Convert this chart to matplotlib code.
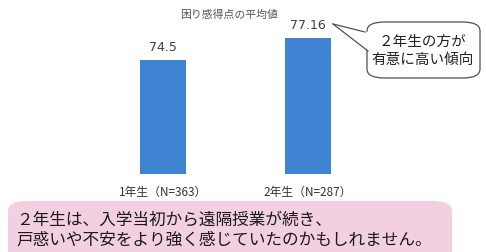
import matplotlib
matplotlib.use("Agg")
import matplotlib.pyplot as plt
from matplotlib.patches import FancyBboxPatch, Polygon
from matplotlib.lines import Line2D

plt.rcParams['font.family'] = ['Noto Sans CJK JP', 'DejaVu Sans']

categories = ["1年生（N=363）", "2年生（N=287）"]
values = [74.5, 77.16]
value_labels = ["74.5", "77.16"]
title = "困り感得点の平均値"
callout_text = "２年生の方が\n有意に高い傾向"
note_text = "２年生は、入学当初から遠隔授業が続き、\n戸惑いや不安をより強く感じていたのかもしれません。"

W, H = 486, 253
fig = plt.figure(figsize=(W / 100, H / 100), dpi=100)
fig.patch.set_facecolor("white")

def fx(x):
    return x / W

def fy(y):
    return 1 - y / H

# axes placement (pixels)
ax_left, ax_right = 47, 424
ax_top, ax_bottom = 25, 175
ax = fig.add_axes([fx(ax_left), fy(ax_bottom), (ax_right - ax_left) / W, (ax_bottom - ax_top) / H])
ax.set_xlim(-0.8, 1.8)
ymin = 60.72
ax.set_ylim(ymin, ymin + (ax_bottom - ax_top) / 8.27)

x = list(range(len(categories)))
bars = ax.bar(x, values, width=0.317, color="#3F84D2", zorder=2)
for xi, v, lab in zip(x, values, value_labels):
    ax.annotate(lab, (xi, v), xytext=(0, 5), textcoords="offset points",
                ha="center", va="bottom", fontsize=9, color="#404040",
                family=["DejaVu Sans"])

ax.set_xticks(x)
ax.set_xticklabels(categories, fontsize=8.5, color="#333333")
ax.tick_params(axis="x", length=0, pad=8)
ax.set_yticks([])
for s in ax.spines.values():
    s.set_visible(False)
ax.patch.set_alpha(0)

# title
fig.text(fx(229), fy(15), title, ha="center", va="center", fontsize=7.8, color="#555555")

# callout box
bx0, by0, bx1, by1 = 367, 23, 480, 79
r = 9
box = FancyBboxPatch((fx(bx0), fy(by1)), fx(bx1 - bx0), (by1 - by0) / H,
                     boxstyle=f"round,pad=0,rounding_size={r / H}",
                     transform=fig.transFigure, facecolor="white",
                     edgecolor="#505050", linewidth=0.9, mutation_aspect=1)
fig.add_artist(box)
tip = (333, 25)
b1 = (365, 33)
b2 = (368, 52)
tail = Polygon([(fx(tip[0]), fy(tip[1])), (fx(b1[0] + 3), fy(b1[1])), (fx(b2[0] + 1), fy(b2[1]))],
               closed=True, transform=fig.transFigure, facecolor="white", edgecolor="none", zorder=5)
fig.add_artist(tail)
for b in (b1, b2):
    fig.add_artist(Line2D([fx(tip[0]), fx(b[0])], [fy(tip[1]), fy(b[1])],
                          transform=fig.transFigure, color="#505050", linewidth=0.9, zorder=6))
fig.text(fx(423), fy(51), callout_text, ha="center", va="center", fontsize=10.5,
         color="#222222", linespacing=1.35, zorder=7)

# bottom note box
nb = FancyBboxPatch((fx(8), fy(270)), fx(452 - 8), (270 - 202) / H,
                    boxstyle=f"round,pad=0,rounding_size={10 / H}",
                    transform=fig.transFigure, facecolor="#F2D0E1",
                    edgecolor="none", mutation_aspect=1)
fig.add_artist(nb)
fig.text(fx(16), fy(230), note_text, ha="left", va="center", fontsize=12,
         color="#1a1a1a", linespacing=1.2)

fig.savefig("out.png", dpi=100)
